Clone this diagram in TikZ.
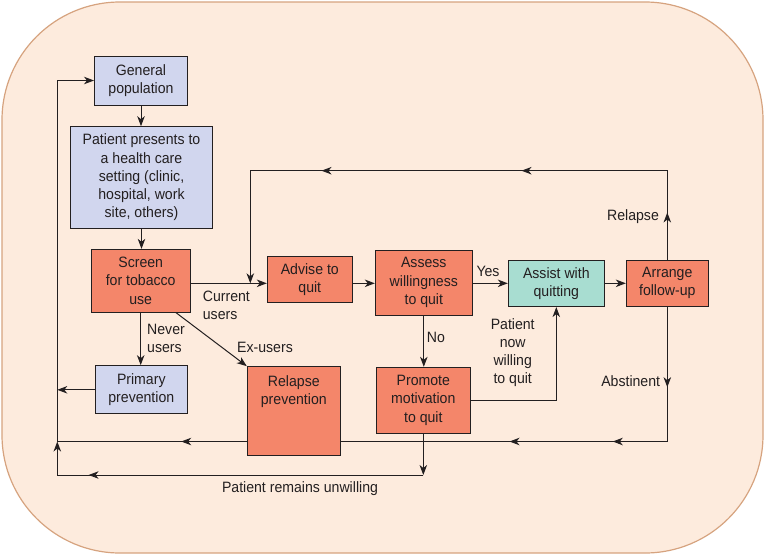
\documentclass[tikz,border=0pt]{standalone}
\usepackage{fontspec}
\setmainfont{Liberation Sans}[FakeStretch=0.94]
\usetikzlibrary{arrows.meta,decorations.markings,calc}
\definecolor{bgfill}{HTML}{FDEBDD}
\definecolor{bgline}{HTML}{D6A37F}
\definecolor{orng}{HTML}{F4866A}
\definecolor{blu}{HTML}{D1D6EE}
\definecolor{tealbox}{HTML}{A8DDD1}
\definecolor{ink}{HTML}{231F20}
\begin{document}
\begin{tikzpicture}[x=1pt,y=-1pt,
  font=\fontsize{15}{18.2}\selectfont,
  >={Stealth[length=10pt,width=7.5pt,inset=3pt]},
  box/.style={draw=ink,line width=1pt,align=center,inner sep=0pt,text=ink},
  obox/.style={box,fill=orng},
  bbox/.style={box,fill=blu},
  tbox/.style={box,fill=tealbox},
  conn/.style={draw=ink,line width=1pt},
  tip/.style={->},
  lbl/.style={text=ink,inner sep=0pt,align=center},
]
\useasboundingbox (0,0) rectangle (765,555);
\draw[fill=bgfill,draw=bgline,line width=1.2pt,rounded corners=118pt] (2,2) rectangle (763,553);

% nodes
\node[bbox,minimum width=93,minimum height=49] (gen) at (141,80.5) {General\\population};
\node[bbox,minimum width=141.6,minimum height=101.6] (pat) at (141.5,177.5) {Patient presents to\\a health care\\setting (clinic,\\hospital, work\\site, others)};
\node[obox,minimum width=99.3,minimum height=62.7] (scr) at (140.7,280.7) {Screen\\for tobacco\\use};
\node[bbox,minimum width=92,minimum height=48.3] (pri) at (141.3,389.8) {Primary\\prevention};
\node[obox,minimum width=85,minimum height=45.6] (adv) at (309.8,279.5) {Advise to\\quit};
\node[obox,minimum width=97,minimum height=65] (ass) at (423.8,282.5) {Assess\\willingness\\to quit};
\node[obox,minimum width=94,minimum height=66] (pro) at (423.3,400.3) {Promote\\motivation\\to quit};
\node[tbox,minimum width=96,minimum height=46.5] (ast) at (556.3,283.3) {Assist with\\quitting};
\node[obox,minimum width=82,minimum height=46] (arr) at (667.3,283) {Arrange\\follow-up};
\node[obox,minimum width=93,minimum height=89.3] (rel) at (293.8,411.3) {};
\node[lbl] (reltext) at (293.8,391.5) {Relapse\\prevention};

% coordinates
\coordinate (TR) at (667.3,170.7);
\coordinate (TL) at (250.3,170.7);
\coordinate (J) at (250.3,283.3);
\coordinate (BR) at (667.3,441.5);
\coordinate (LB) at (57.3,441.5);
\coordinate (LT) at (57.3,80.5);
\coordinate (UL) at (57.3,475);
\coordinate (U) at (pro.south |- UL);

% connectors
\draw[conn,tip] (gen.south) -- (gen.south |- pat.north);
\draw[conn,tip] (pat.south) -- (pat.south |- scr.north);
\draw[conn,tip] (scr.east |- J) -- (adv.west |- J);
\draw[conn,tip] (adv.east |- J) -- (ass.west |- J);
\draw[conn,tip] (ass.east |- ast.west) -- (ast.west);
\draw[conn,tip] (ast.east) -- (arr.west |- ast.east);
\draw[conn,tip] (ass.south) -- (ass.south |- pro.north);
\draw[conn,tip] (pro.east) -- (pro.east -| ast.south) -- (ast.south);
\draw[conn,tip] (scr.south) -- (scr.south |- pri.north);
\draw[conn,tip] ([xshift=-15pt]scr.south east) -- (rel.north west);
\draw[conn,tip] (pri.west) -- (pri.west -| LT);
\draw[conn,tip,postaction={decorate},decoration={markings,
   mark=at position 47pt with {\arrow{>}},
   mark=at position 234.6pt with {\arrow{>}},
   mark=at position 434.6pt with {\arrow{>}}}]
  (arr.north) -- (TR) -- (TL) -- (J);
\draw[conn,postaction={decorate},decoration={markings,
   mark=at position 80.7pt with {\arrow{>}},
   mark=at position 189.5pt with {\arrow{>}},
   mark=at position 292.8pt with {\arrow{>}}}]
  (arr.south) -- (BR) -- (rel.east |- BR);
\draw[conn,tip,postaction={decorate},decoration={markings,
   mark=at position 65.6pt with {\arrow{>}}}]
  (rel.west |- BR) -- (LB) -- (LT) -- (gen.west);
\draw[conn,tip] (pro.south) -- (U);
\draw[conn,tip,postaction={decorate},decoration={markings,
   mark=at position 334.7pt with {\arrow{>}}}]
  (U) -- (UL) -- (LB);

% labels
\node[lbl,align=left,anchor=west] (lcur) at (202.7,305.5) {Current\\users};
\node[lbl,align=left,anchor=west] (lnev) at (147,338.7) {Never\\users};
\node[lbl] (lex) at (265,347.3) {Ex-users};
\node[lbl] (lyes) at (488,271.7) {Yes};
\node[lbl] (lno) at (436,337.3) {No};
\node[lbl] (lnow) at (512.7,352.5) {Patient\\now\\willing\\to quit};
\node[lbl] (lrel) at (633,217) {Relapse};
\node[lbl] (labs) at (630.7,381) {Abstinent};
\node[lbl] (lunw) at (300,489) {Patient remains unwilling};
\end{tikzpicture}
\end{document}
